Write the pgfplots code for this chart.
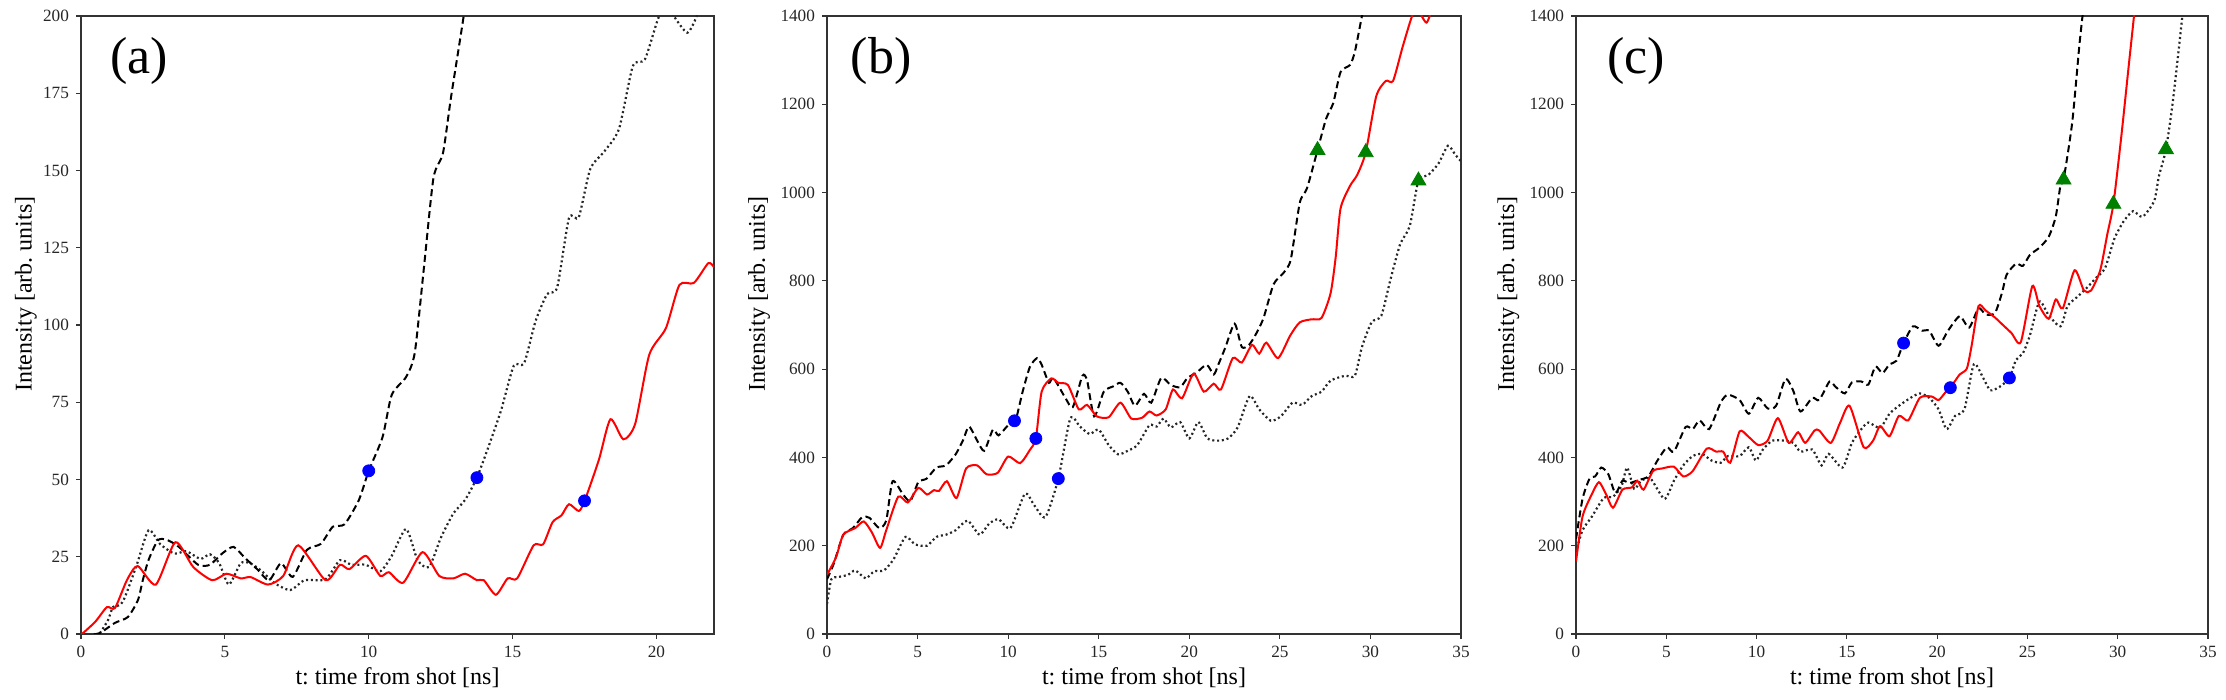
\documentclass[border=0pt]{standalone}
\usepackage{fontspec}
\setmainfont{Liberation Serif}
\usepackage{pgfplots}
\pgfplotsset{compat=1.18}
\frenchspacing
\definecolor{mplgreen}{RGB}{0,128,0}
\tikzset{plabel/.style={anchor=north west, inner sep=0pt, font=\fontsize{26}{28}\selectfont}}
\pgfplotsset{
  panel/.style={
    scale only axis, height=309pt, anchor=south west,
    axis line style={black!80, line width=0.7pt},
    tick pos=left, tick align=outside, major tick length=2.5pt,
    tick style={black!80, line width=0.6pt},
    tick label style={font=\fontsize{8.6}{10}\selectfont, text=black!85},
    /pgf/number format/assume math mode=true,
    /pgf/number format/1000 sep={},
    scaled ticks=false,
    label style={font=\fontsize{12}{14}\selectfont},
    xlabel={t: time from shot [ns]},
    ylabel={Intensity [arb. units]},
    xlabel style={at={(axis description cs:0.5,-0.081)}, anchor=base},
    ymin=0, clip=true,
  },
  dashln/.style={black, line width=1pt, dash pattern=on 3.5pt off 2pt, smooth, tension=0.4},
  dotln/.style={black!85, line width=1.1pt, dash pattern=on 1pt off 1.4pt, smooth, tension=0.4},
  redln/.style={red, line width=1pt, smooth, tension=0.4},
  bluemk/.style={only marks, mark=*, mark size=3pt, blue, mark options={draw=blue, fill=blue}},
  greenmk/.style={only marks, mark=triangle*, mark size=4.3pt, mplgreen, mark options={draw=mplgreen, fill=mplgreen}},
}
\begin{document}
\begin{tikzpicture}
\useasboundingbox (0,0) rectangle (1113pt,350pt);
% ---------------- (a) ----------------
\begin{axis}[panel, at={(40.5pt,33pt)}, width=316.5pt,
  xmin=0, xmax=22, ymax=200, xtick={0,5,10,15,20}, ytick={0,25,50,75,100,125,150,175,200},
  ylabel style={at={(axis description cs:-0.087,0.55)}, anchor=center}]
\addplot[dotln] coordinates {
(0.66,0.3)(0.94,4.5)(1.11,8.7)(1.36,9.4)(1.53,12)(1.94,22.4)(2.35,33.6)(2.76,29)(3.25,26)(3.66,26.8)(4.15,24.3)(4.48,25.8)(4.8,23)(5.14,16)(5.55,22.9)(5.88,22.9)(6.29,20.3)(6.7,16.6)(7.27,14.2)(7.77,17.4)(8.5,17.7)(9.0,23.9)(9.4,22.4)(9.9,22.4)(10.4,20.3)(10.8,25.3)(11.3,34)(11.7,23.9)(12.1,21.7)(12.5,31)(12.94,39)(13.35,43.4)(13.76,50.6)(14.17,60.8)(14.6,72.4)(15.04,86.8)(15.4,87.6)(15.8,101.3)(16.2,110)(16.55,112.2)(16.96,134.6)(17.3,134.9)(17.7,150.5)(18.2,156.3)(18.7,163.5)(19.18,183.8)(19.6,186)(20.08,199.7)(20.4,203)(20.6,200)(21.07,194.6)(21.4,200)(21.7,210)(22,216)
};
\addplot[dashln] coordinates {
(0.45,0)(0.66,0.3)(1.18,3.6)(1.63,5.5)(1.98,11)(2.15,17.5)(2.35,24)(2.68,30.4)(3.0,30.4)(3.4,28.2)(4.07,22.4)(4.48,22.4)(4.9,26)(5.3,28.2)(5.7,24.6)(6.12,21)(6.54,17.4)(6.95,22.9)(7.36,18.5)(7.85,27.2)(8.34,29.2)(8.75,34.7)(9.16,35.5)(9.66,43.4)(10.0,52.8)(10.48,63.7)(10.8,77.4)(11.3,83.2)(11.6,91)(11.92,118.7)(12.25,147.6)(12.58,155.6)(12.86,173.7)(13.3,200)(13.5,215)
};
\addplot[redln] coordinates {
(0,0)(0.07,0.3)(0.5,4)(0.9,8.7)(1.18,8.4)(1.6,17.5)(1.97,22)(2.6,16)(3.28,29.7)(3.9,21.7)(4.56,17.4)(5.06,19.5)(5.55,18)(5.9,18.4)(6.5,16)(7.03,18.8)(7.55,28.7)(8.5,17.4)(9.0,22.4)(9.33,21)(9.9,25.3)(10.4,18.8)(10.7,20)(11.2,16.6)(11.87,26.5)(12.45,18.8)(12.94,18)(13.35,19.5)(13.76,17.4)(14.0,17.4)(14.42,12.7)(14.83,18)(15.16,18)(15.73,28.7)(16.06,29)(16.39,36.2)(16.7,38.4)(16.96,42)(17.3,39.8)(17.5,43)(18.0,56.4)(18.4,69.5)(18.85,63)(19.26,68)(19.75,90.4)(20.33,99)(20.8,113)(21.3,113.6)(21.8,120)(22,118.7)
};
\addplot[bluemk] coordinates {(10.0,52.8)(13.76,50.6)(17.5,43.1)};
\node[plabel] at (rel axis cs:0.046,0.966) {(a)};
\end{axis}
% ---------------- (b) ----------------
\begin{axis}[panel, at={(413.5pt,33pt)}, width=317pt,
  xmin=0, xmax=35, ymax=1400, xtick={0,5,10,15,20,25,30,35}, ytick={0,200,400,600,800,1000,1200,1400},
  ylabel style={at={(axis description cs:-0.107,0.55)}, anchor=center}]
\addplot[dotln] coordinates {
(0,68)(0.24,124)(0.63,129)(1.16,134)(1.56,144)(2.14,126)(2.6,142)(3.14,144)(3.67,169)(4.33,220)(4.86,203)(5.52,200)(6.04,220)(6.57,225)(7.1,235)(7.76,257)(8.42,225)(8.95,250)(9.47,260)(10.13,240)(10.93,318)(11.45,291)(12.06,265)(12.77,352)(13.43,488)(13.96,470)(14.5,453)(15.0,463)(15.55,428)(16.07,407)(16.6,415)(17.13,428)(17.8,473)(18.2,470)(18.58,488)(18.98,468)(19.5,480)(20.0,443)(20.5,480)(21.0,443)(21.6,438)(22.14,443)(22.67,468)(23.33,539)(23.86,509)(24.5,483)(25.05,493)(25.7,524)(26.23,519)(26.76,539)(27.3,549)(27.8,574)(28.6,585)(29.14,585)(29.53,650)(30.06,706)(30.6,721)(31.1,802)(31.64,883)(32.17,924)(32.65,1027)(33.2,1040)(33.76,1066)(34.28,1106)(34.68,1086)(35,1071)
};
\addplot[dashln] coordinates {
(0,124)(0.37,159)(0.9,225)(1.43,240)(1.95,265)(2.35,263)(2.88,240)(3.27,257)(3.62,346)(4.2,316)(4.6,301)(5.04,344)(5.5,352)(6.04,377)(6.57,382)(7.1,407)(7.5,438)(7.84,470)(8.29,438)(8.68,415)(9.16,463)(9.47,450)(10.0,473)(10.4,483)(10.8,549)(11.2,605)(11.6,625)(11.85,610)(12.25,569)(12.5,580)(13.17,534)(13.57,514)(14.1,585)(14.36,574)(14.75,493)(15.28,549)(15.8,561)(16.2,569)(16.6,549)(17.0,517)(17.5,544)(17.9,524)(18.45,580)(18.98,564)(19.5,559)(19.9,580)(20.4,592)(20.96,610)(21.35,588)(21.6,610)(22.0,650)(22.5,703)(22.9,650)(23.3,655)(23.7,681)(24.1,716)(24.65,792)(25.2,818)(25.6,848)(26.1,977)(26.5,1010)(27.08,1096)(27.55,1167)(27.95,1203)(28.35,1273)(28.87,1289)(29.14,1319)(29.53,1400)(29.7,1440)
};
\addplot[redln] coordinates {
(0,134)(0.5,174)(0.9,225)(1.56,240)(2.03,255)(2.48,230)(2.93,195)(3.27,235)(3.93,311)(4.46,298)(5.04,331)(5.52,316)(5.91,326)(6.18,324)(6.62,346)(7.15,308)(7.68,375)(8.29,382)(8.8,362)(9.42,365)(10.0,402)(10.66,387)(11.2,417)(11.53,443)(11.85,549)(12.38,579)(12.77,569)(13.3,564)(13.9,509)(14.36,519)(14.9,493)(15.55,491)(16.2,524)(16.8,488)(17.4,490)(17.8,504)(18.2,495)(18.7,509)(19.1,554)(19.6,534)(20.24,590)(20.8,549)(21.35,567)(21.75,554)(22.4,625)(22.9,615)(23.46,655)(23.86,635)(24.25,660)(24.9,625)(25.57,676)(26.1,706)(26.76,713)(27.3,716)(27.8,772)(28.08,853)(28.35,964)(28.87,1015)(29.27,1040)(29.74,1091)(30.32,1218)(30.85,1253)(31.25,1253)(31.77,1329)(32.3,1400)(32.6,1415)(33.1,1385)(33.5,1430)
};
\addplot[bluemk] coordinates {(10.35,483)(11.53,443)(12.77,352)};
\addplot[greenmk] coordinates {(27.08,1096)(29.74,1091)(32.65,1027)};
\node[plabel] at (rel axis cs:0.037,0.966) {(b)};
\end{axis}
% ---------------- (c) ----------------
\begin{axis}[panel, at={(788pt,33pt)}, width=316pt,
  xmin=0, xmax=35, ymax=1400, xtick={0,5,10,15,20,25,30,35}, ytick={0,200,400,600,800,1000,1200,1400},
  ylabel style={at={(axis description cs:-0.107,0.55)}, anchor=center}]
\addplot[dotln] coordinates {
(0,185)(0.36,235)(0.88,266)(1.53,308)(2.05,311)(2.52,335)(2.83,377)(3.22,329)(3.61,347)(4.13,352)(4.9,306)(5.42,347)(5.94,382)(6.46,403)(6.98,408)(7.5,393)(8.02,388)(8.41,403)(9.06,403)(9.57,423)(9.96,393)(10.35,418)(10.87,438)(11.52,438)(12.04,433)(12.43,413)(13.08,418)(13.6,382)(13.99,408)(14.76,377)(15.28,433)(15.8,464)(16.19,479)(16.84,467)(17.36,499)(17.88,517)(18.53,535)(19.04,545)(19.56,535)(20.08,509)(20.52,464)(20.99,494)(21.51,509)(22.03,611)(22.55,580)(22.94,552)(23.46,560)(24.0,580)(24.37,621)(24.75,636)(25.14,677)(25.66,753)(26.18,722)(26.83,697)(27.22,743)(27.74,763)(28.26,783)(28.78,806)(29.3,829)(29.81,895)(30.33,935)(30.85,958)(31.37,945)(32.02,981)(32.28,1037)(32.67,1098)(33.06,1209)(33.58,1400)(33.7,1450)
};
\addplot[dashln] coordinates {
(0,215)(0.36,306)(0.75,352)(1.06,357)(1.4,377)(1.79,362)(2.18,319)(2.57,347)(2.96,342)(3.48,349)(4.0,357)(4.51,393)(5.03,423)(5.42,413)(6.07,469)(6.46,464)(6.85,484)(7.37,464)(8.02,525)(8.41,542)(9.06,530)(9.57,499)(10.09,535)(10.61,511)(11.08,517)(11.6,578)(12.04,550)(12.43,504)(13.08,535)(13.47,530)(14.04,572)(14.37,560)(14.89,545)(15.28,570)(15.8,572)(16.19,565)(16.58,606)(16.97,591)(17.36,611)(17.75,619)(18.14,659)(18.66,697)(19.17,687)(19.56,687)(20.08,653)(20.6,687)(21.25,720)(21.77,694)(22.29,738)(22.68,724)(23.2,727)(23.59,773)(23.85,814)(24.37,839)(24.75,834)(25.14,859)(25.66,875)(26.18,900)(26.57,946)(26.83,1017)(27.0,1029)(27.48,1159)(27.87,1331)(28.05,1400)(28.2,1450)
};
\addplot[redln] coordinates {
(0,164)(0.36,266)(0.88,317)(1.27,344)(1.66,317)(2.05,286)(2.57,327)(3.09,332)(3.4,347)(3.74,327)(4.26,369)(4.77,375)(5.42,379)(5.94,357)(6.46,369)(7.24,420)(7.76,413)(8.15,413)(8.54,388)(9.06,459)(9.52,448)(10.09,428)(10.61,438)(11.18,489)(11.78,433)(12.3,457)(12.69,433)(13.21,461)(13.47,461)(14.11,433)(14.63,479)(15.15,517)(15.93,423)(16.45,438)(16.84,471)(17.36,448)(17.88,494)(18.4,484)(19.04,535)(19.69,538)(20.08,530)(20.47,548)(20.73,558)(21.25,588)(21.64,601)(21.9,651)(22.29,743)(22.68,733)(23.2,717)(23.59,702)(24.11,682)(24.63,661)(25.27,788)(25.66,743)(26.18,714)(26.57,758)(26.96,738)(27.61,824)(28.13,778)(28.52,778)(29.03,824)(29.42,905)(29.76,974)(30.2,1128)(30.59,1280)(30.9,1400)(31.0,1450)
};
\addplot[bluemk] coordinates {(18.14,659)(20.73,558)(24.0,580)};
\addplot[greenmk] coordinates {(27.0,1029)(29.76,974)(32.67,1098)};
\node[plabel] at (rel axis cs:0.049,0.966) {(c)};
\end{axis}
\end{tikzpicture}
\end{document}
